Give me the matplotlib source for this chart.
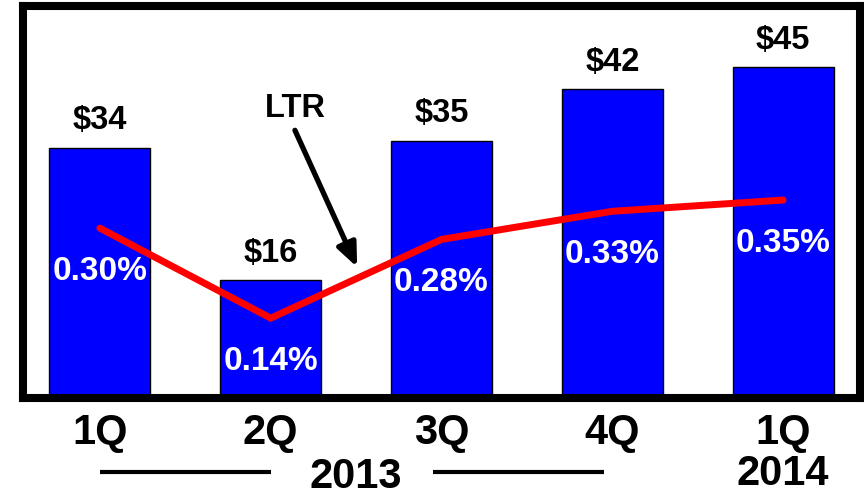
import matplotlib
matplotlib.use("Agg")
import matplotlib.pyplot as plt
import matplotlib.transforms as mtransforms

plt.rcParams['font.family'] = ['Liberation Sans', 'DejaVu Sans']
plt.rcParams['font.weight'] = 'bold'

quarters = ["1Q", "2Q", "3Q", "4Q", "1Q"]
amounts = [34, 16, 35, 42, 45]
amount_labels = ["$34", "$16", "$35", "$42", "$45"]
ltr_pct = [0.30, 0.14, 0.28, 0.33, 0.35]
ltr_labels = ["0.30%", "0.14%", "0.28%", "0.33%", "0.35%"]
years = ["2013", "2014"]

fig = plt.figure(figsize=(8.64, 4.91), dpi=100)
ax = fig.add_axes([23/864, (491-398)/491, 837/864, 392/491])
x = list(range(len(quarters)))

ax.bar(x, amounts, width=0.59, color="#0000ff", edgecolor="black", linewidth=1, zorder=1)
ax.set_xlim(-0.45, 4.45)
ax.set_ylim(0, 53.3)
ax.set_yticks([])
ax.set_xticks([])
for s in ax.spines.values():
    s.set_linewidth(5.8)
    s.set_color("black")

for xi, v, lab in zip(x, amounts, amount_labels):
    ax.annotate(lab, xy=(xi, v), xytext=(0, 18.5), textcoords="offset pixels",
                ha="center", va="baseline", fontsize=23.5, fontweight="bold", color="black")

for xi, q in zip(x, quarters):
    ax.annotate(q, xy=(xi, 0), xycoords=("data", "axes fraction"), xytext=(0, -46),
                textcoords="offset pixels", ha="center", va="baseline",
                fontsize=30, fontweight="bold", annotation_clip=False)

ax.annotate(years[0], xy=(1.5, 0), xycoords=("data", "axes fraction"), xytext=(0, -90),
            textcoords="offset pixels", ha="center", va="baseline",
            fontsize=30, fontweight="bold", annotation_clip=False)
ax.annotate(years[1], xy=(4, 0), xycoords=("data", "axes fraction"), xytext=(0, -87),
            textcoords="offset pixels", ha="center", va="baseline",
            fontsize=30, fontweight="bold", annotation_clip=False)

trans = mtransforms.blended_transform_factory(ax.transData, ax.transAxes)
ly = (398 - 472) / 392
ax.plot([0.0, 1.0], [ly, ly], transform=trans, color="black", lw=3, clip_on=False,
        solid_capstyle="butt")
ax.plot([1.95, 2.95], [ly, ly], transform=trans, color="black", lw=3, clip_on=False,
        solid_capstyle="butt")

# LTR annotation
ax.text(1.142, 38.2, "LTR", ha="center", va="baseline", fontsize=23.5, fontweight="bold")
ax.annotate("", xy=(1.506, 17.8), xytext=(1.142, 36.4),
            arrowprops=dict(arrowstyle="-|>,head_length=0.7,head_width=0.3",
                            mutation_scale=20, lw=3.8, color="black",
                            shrinkA=0, shrinkB=0))

ax2 = ax.twinx()
ax2.set_ylim(-0.002, 0.695)
ax2.set_yticks([])
for s in ax2.spines.values():
    s.set_visible(False)
ax2.plot(x, ltr_pct, color="#ff0000", lw=5, solid_capstyle="round", solid_joinstyle="miter",
         zorder=3)
for xi, p, lab in zip(x, ltr_pct, ltr_labels):
    ax2.annotate(lab, xy=(xi, p), xytext=(0, -52), textcoords="offset pixels",
                 ha="center", va="baseline", fontsize=24, fontweight="bold",
                 color="white", zorder=4)

fig.savefig("out.png", dpi=100)
